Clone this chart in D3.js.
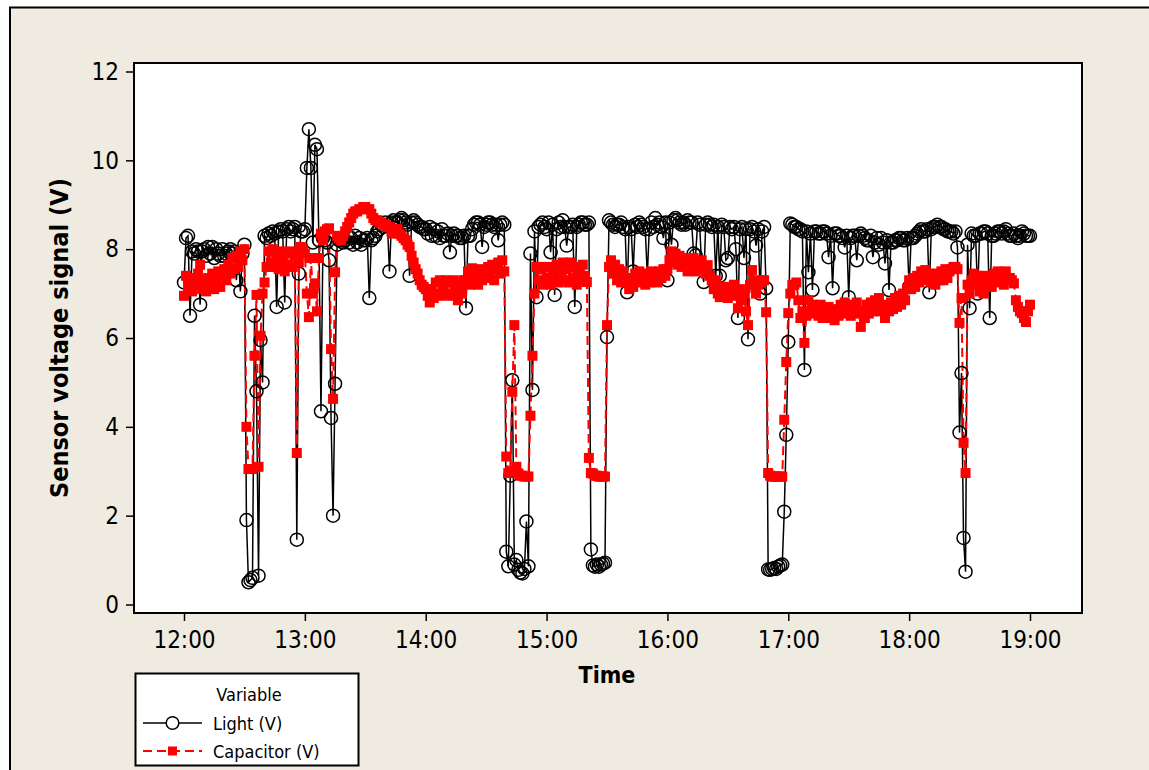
<!DOCTYPE html>
<meta charset="utf-8">
<style>
body { margin: 0; background: #fff; }
</style>
<body>
<script src="https://cdn.jsdelivr.net/npm/d3@7/dist/d3.min.js"></script>
<script>

// one reading per minute, 12:00 .. 19:00 (ten readings per row)
var minutes = d3.range(0, 421);

var light = [
  7.25, 8.25, 8.3, 6.5, 7.95, 7.9, 8.0, 7.95, 6.75, 7.95,
  8.0, 7.85, 8.05, 7.9, 8.05, 7.8, 8.0, 7.9, 7.85, 8.0,
  7.85, 7.9, 7.95, 8.0, 7.9, 7.95, 7.3, 7.85, 7.05, 7.9,
  8.1, 1.9, 0.5, 0.55, 0.6, 6.5, 4.8, 0.65, 5.95, 5.0,
  8.3, 8.25, 8.35, 8.3, 8.4, 8.35, 6.7, 8.4, 8.45, 8.4,
  6.8, 8.45, 8.5, 8.4, 8.45, 8.5, 1.46, 7.45, 8.4, 8.4,
  8.45, 9.83, 10.7, 9.83, 8.15, 10.35, 10.25, 8.2, 4.35, 8.25,
  8.2, 8.15, 7.75, 4.2, 2.0, 4.97, 8.1, 8.2, 8.2, 8.15,
  8.2, 8.3, 8.15, 8.25, 8.1, 8.3, 8.15, 8.25, 8.1, 8.2,
  8.2, 8.25, 6.9, 8.2, 8.25, 8.3, 8.4, 8.45, 8.55, 8.5,
  8.6, 8.55, 7.5, 8.6, 8.65, 8.6, 8.6, 8.65, 8.7, 8.65,
  8.6, 8.55, 7.4, 8.6, 8.65, 8.6, 8.55, 8.5, 8.5, 8.45,
  8.45, 8.35, 8.5, 8.3, 8.45, 8.3, 8.4, 8.25, 8.45, 8.3,
  8.3, 8.35, 7.93, 8.3, 8.35, 8.3, 8.3, 8.25, 8.25, 8.3,
  6.67, 8.3, 8.3, 8.45, 8.55, 8.6, 8.6, 8.55, 8.05, 8.5,
  8.55, 8.6, 8.6, 8.55, 8.5, 8.55, 8.2, 8.55, 8.6, 8.55,
  1.19, 0.86, 2.9, 5.05, 0.9, 1.0, 0.78, 0.72, 0.7, 0.8,
  1.87, 0.86, 7.9, 4.83, 8.4, 6.92, 8.5, 8.55, 8.6, 8.5,
  8.45, 8.6, 7.93, 8.55, 6.97, 8.45, 8.6, 8.5, 8.65, 8.5,
  8.08, 8.5, 8.5, 8.55, 6.7, 8.5, 8.55, 8.6, 8.6, 8.55,
  8.55, 8.6, 1.24, 0.88, 0.85, 0.9, 0.85, 0.9, 0.92, 0.94,
  6.02, 8.65, 8.6, 8.55, 8.5, 8.55, 8.55, 8.6, 8.5, 8.45,
  7.03, 8.5, 8.45, 7.5, 8.55, 8.5, 8.6, 8.55, 8.5, 8.45,
  7.4, 8.45, 8.6, 8.5, 8.7, 8.55, 8.6, 8.5, 8.25, 8.6,
  7.3, 8.6, 8.1, 8.65, 8.7, 8.65, 8.6, 8.55, 8.6, 8.55,
  8.65, 8.6, 8.6, 7.9, 7.86, 8.6, 8.55, 7.6, 7.26, 8.55,
  8.6, 8.55, 8.5, 8.55, 7.4, 8.5, 7.4, 8.55, 8.5, 7.75,
  7.8, 8.5, 8.45, 8.5, 8.0, 6.45, 8.45, 8.5, 7.8, 8.45,
  5.97, 8.45, 8.5, 8.4, 8.08, 8.45, 7.0, 8.4, 8.5, 7.12,
  0.79, 0.78, 0.8, 0.82, 0.8, 0.85, 0.88, 0.9, 2.09, 3.82,
  5.91, 8.58, 8.55, 8.5, 8.5, 8.45, 8.45, 8.4, 5.28, 8.4,
  7.48, 8.35, 7.08, 8.4, 8.4, 8.35, 8.35, 8.4, 8.4, 8.35,
  7.82, 8.3, 7.12, 8.35, 8.35, 8.3, 8.3, 8.25, 8.04, 8.3,
  6.92, 8.25, 8.3, 8.3, 7.75, 8.3, 8.35, 8.3, 8.25, 8.2,
  8.2, 8.3, 7.82, 8.15, 8.25, 8.1, 8.25, 8.15, 7.68, 8.2,
  7.08, 8.15, 8.15, 8.2, 8.2, 8.25, 8.25, 8.2, 8.2, 8.25,
  7.15, 8.25, 8.25, 8.3, 8.35, 8.4, 8.45, 8.4, 8.4, 8.45,
  7.03, 8.45, 8.5, 8.5, 8.55, 8.5, 8.5, 8.45, 8.45, 8.4,
  8.4, 8.4, 8.35, 8.4, 8.04, 3.87, 5.21, 1.5, 0.74, 8.1,
  6.67, 8.35, 8.3, 8.3, 7.0, 8.35, 8.35, 8.4, 8.4, 8.35,
  6.45, 8.3, 8.3, 8.35, 8.4, 8.4, 8.35, 8.4, 8.45, 8.35,
  8.3, 8.3, 8.35, 8.3, 8.25, 8.3, 8.4, 8.35, 8.3, 8.3,
  8.3
];

var capacitor = [
  6.95, 7.4, 7.15, 7.3, 7.05, 7.35, 7.2, 7.45, 7.65, 7.1,
  7.3, 7.05, 7.35, 7.2, 7.45, 7.1, 7.3, 7.5, 7.15, 7.4,
  7.55, 7.3, 7.65, 7.45, 7.8, 7.55, 7.85, 7.6, 7.95, 7.75,
  8.0, 4.0, 3.05, 3.05, 3.05, 5.6, 6.97, 3.1, 6.05, 7.0,
  7.25, 7.6, 7.95, 7.7, 8.0, 7.6, 7.85, 7.55, 7.95, 7.7,
  7.5, 7.9, 7.65, 7.95, 7.6, 7.85, 3.41, 7.7, 8.05, 8.0,
  7.9, 7.0, 6.47, 7.8, 7.0, 7.23, 6.6, 7.8, 8.35, 8.2,
  8.4, 8.45, 8.47, 5.75, 4.63, 7.48, 8.3, 8.25, 8.2, 8.3,
  8.4, 8.5, 8.6, 8.7, 8.8, 8.85, 8.85, 8.9, 8.9, 8.95,
  8.95, 8.9, 8.9, 8.8, 8.7, 8.65, 8.65, 8.6, 8.6, 8.55,
  8.55, 8.5, 8.5, 8.4, 8.35, 8.45, 8.45, 8.35, 8.3, 8.25,
  8.2, 8.1, 8.05, 7.85, 7.7, 7.55, 7.45, 7.3, 7.2, 7.15,
  7.1, 6.95, 6.8, 7.1, 6.9, 7.25, 7.0, 7.3, 6.95, 7.2,
  7.3, 7.0, 7.25, 6.95, 7.3, 7.05, 6.85, 7.2, 7.0, 7.3,
  7.3, 7.5, 7.2, 7.57, 7.25, 7.45, 7.2, 7.55, 7.3, 7.5,
  7.35, 7.6, 7.4, 7.65, 7.3, 7.55, 7.7, 7.45, 7.75, 7.5,
  3.33, 2.96, 3.0, 4.79, 6.29, 3.1, 2.95, 2.9, 2.9, 2.88,
  2.88, 2.88, 4.25, 5.6, 7.0, 7.6, 7.3, 7.55, 7.2, 7.6,
  7.35, 7.6, 7.2, 7.55, 7.3, 7.65, 7.25, 7.5, 7.7, 7.3,
  7.55, 7.25, 7.7, 7.35, 7.6, 7.2, 7.5, 7.3, 7.65, 7.4,
  7.26, 3.3, 2.96, 2.95, 2.9, 2.9, 2.88, 2.88, 2.88, 2.88,
  6.29, 7.6, 7.75, 7.45, 7.65, 7.3, 7.55, 7.25, 7.5, 7.35,
  7.3, 7.1, 7.35, 7.15, 7.45, 7.25, 7.5, 7.3, 7.45, 7.2,
  7.4, 7.25, 7.5, 7.3, 7.45, 7.25, 7.5, 7.35, 7.55, 7.4,
  7.55, 7.75, 7.95, 7.7, 7.9, 7.65, 7.85, 7.6, 7.8, 7.7,
  7.5, 7.75, 7.6, 7.8, 7.5, 7.7, 7.55, 7.75, 7.6, 7.45,
  7.64, 7.4, 7.3, 7.1, 7.3, 7.0, 6.92, 7.15, 6.95, 7.15,
  6.9, 7.15, 7.0, 7.2, 6.95, 6.67, 7.1, 6.85, 7.0, 6.6,
  6.29, 7.2, 7.53, 7.3, 7.0, 7.2, 7.26, 7.3, 7.3, 6.58,
  2.96, 2.9, 2.88, 2.88, 2.88, 2.88, 2.88, 2.88, 4.16, 5.46,
  6.56, 7.0, 7.19, 7.2, 7.25, 6.85, 6.45, 6.6, 5.89, 6.5,
  6.85, 6.6, 6.75, 6.55, 6.7, 6.5, 6.75, 6.45, 6.65, 6.5,
  6.7, 6.45, 6.6, 6.4, 6.65, 6.5, 6.75, 6.55, 6.8, 6.6,
  6.7, 6.5, 6.75, 6.55, 6.8, 6.6, 6.25, 6.6, 6.45, 6.75,
  6.55, 6.8, 6.6, 6.85, 6.65, 6.9, 6.6, 6.75, 6.45, 6.7,
  6.6, 6.8, 6.65, 6.9, 6.7, 6.95, 6.75, 7.0, 6.85, 7.1,
  7.3, 7.1, 7.35, 7.15, 7.4, 7.25, 7.5, 7.3, 7.53, 7.35,
  7.45, 7.25, 7.4, 7.2, 7.45, 7.3, 7.5, 7.3, 7.55, 7.35,
  7.5, 7.55, 7.6, 7.6, 7.55, 6.34, 6.9, 3.64, 2.96, 7.2,
  7.0, 7.3, 7.45, 7.2, 7.4, 7.05, 7.25, 7.0, 7.4, 7.2,
  7.37, 7.15, 7.45, 7.25, 7.5, 7.3, 7.45, 7.2, 7.5, 7.35,
  7.35, 7.3, 7.23, 6.85, 6.7, 6.6, 6.56, 6.45, 6.36, 6.6,
  6.75
];

var xTicks = [0, 60, 120, 180, 240, 300, 360, 420];
var xTickLabels = ["12:00", "13:00", "14:00", "15:00", "16:00", "17:00", "18:00", "19:00"];
var yTicks = [0, 2, 4, 6, 8, 10, 12];
var seriesNames = ["Light (V)", "Capacitor (V)"];

if (minutes.length != light.length || minutes.length != capacitor.length)
  throw new Error("length mismatch " + minutes.length + " " + light.length + " " + capacitor.length);

var FONT = '"DejaVu Sans Condensed", "DejaVu Sans", sans-serif';

var svg = d3.select("body").append("svg")
    .attr("width", 1149)
    .attr("height", 770);

// outer beige panel
svg.append("rect")
    .attr("x", 10).attr("y", 7.5)
    .attr("width", 1160).attr("height", 790)
    .attr("fill", "#efebe1")
    .attr("stroke", "#000")
    .attr("stroke-width", 2);

// data region
svg.append("rect")
    .attr("x", 134).attr("y", 63)
    .attr("width", 948).attr("height", 550)
    .attr("fill", "#fff")
    .attr("stroke", "#000")
    .attr("stroke-width", 2);

var x = d3.scaleLinear().domain([0, 420]).range([184, 1030]);
var y = d3.scaleLinear().domain([0, 12]).range([604.5, 71.5]);

var data = minutes.map(function(m, i) {
  return {m: m, light: light[i], cap: capacitor[i]};
});

// axes
var xAxis = svg.append("g")
    .attr("transform", "translate(0,613)")
    .call(d3.axisBottom(x).tickValues(xTicks)
      .tickFormat(function(d, i) { return xTickLabels[i]; })
      .tickSize(8).tickPadding(10));
xAxis.select(".domain").remove();

var yAxis = svg.append("g")
    .attr("transform", "translate(134,0)")
    .call(d3.axisLeft(y).tickValues(yTicks).tickSize(8).tickPadding(7));
yAxis.select(".domain").remove();

[xAxis, yAxis].forEach(function(g) {
  g.attr("font-family", FONT).attr("font-size", 24);
  g.selectAll("line").attr("stroke", "#000").attr("stroke-width", 1.5);
  g.selectAll("text").attr("fill", "#000");
});

svg.append("text")
    .attr("x", 607).attr("y", 683)
    .attr("text-anchor", "middle")
    .attr("font-family", FONT).attr("font-weight", "bold").attr("font-size", 23)
    .text("Time");

svg.append("text")
    .attr("text-anchor", "middle")
    .attr("transform", "translate(68,338)rotate(-90)")
    .attr("font-family", FONT).attr("font-weight", "bold").attr("font-size", 25)
    .text("Sensor voltage signal (V)");

// lines
var lightLine = d3.line().x(function(d) { return x(d.m); }).y(function(d) { return y(d.light); });
var capLine = d3.line().x(function(d) { return x(d.m); }).y(function(d) { return y(d.cap); });

svg.append("path")
    .datum(data)
    .attr("d", lightLine)
    .attr("fill", "none")
    .attr("stroke", "#000")
    .attr("stroke-width", 1.5);

svg.append("path")
    .datum(data)
    .attr("d", capLine)
    .attr("fill", "none")
    .attr("stroke", "#ff0000")
    .attr("stroke-width", 2)
    .attr("stroke-dasharray", "9,5");

svg.append("g").selectAll("circle")
    .data(data)
  .enter().append("circle")
    .attr("cx", function(d) { return x(d.m); })
    .attr("cy", function(d) { return y(d.light); })
    .attr("r", 6.5)
    .attr("fill", "none")
    .attr("stroke", "#000")
    .attr("stroke-width", 1.5);

svg.append("g").selectAll("rect")
    .data(data)
  .enter().append("rect")
    .attr("x", function(d) { return x(d.m) - 5; })
    .attr("y", function(d) { return y(d.cap) - 5; })
    .attr("width", 10)
    .attr("height", 10)
    .attr("fill", "#ff0000");

// legend
var legend = svg.append("g");
legend.append("rect")
    .attr("x", 135.5).attr("y", 673.5)
    .attr("width", 223).attr("height", 92)
    .attr("fill", "#fff")
    .attr("stroke", "#000")
    .attr("stroke-width", 2);

legend.append("text")
    .attr("x", 249).attr("y", 701)
    .attr("text-anchor", "middle")
    .attr("font-family", FONT).attr("font-size", 18)
    .text("Variable");

legend.append("line")
    .attr("x1", 143).attr("x2", 202).attr("y1", 723).attr("y2", 723)
    .attr("stroke", "#000").attr("stroke-width", 1.5);
legend.append("circle")
    .attr("cx", 172.5).attr("cy", 723).attr("r", 6.3)
    .attr("fill", "#fff").attr("stroke", "#000").attr("stroke-width", 1.5);

legend.append("line")
    .attr("x1", 143).attr("x2", 202).attr("y1", 751).attr("y2", 751)
    .attr("stroke", "#ff0000").attr("stroke-width", 2)
    .attr("stroke-dasharray", "9,5");
legend.append("rect")
    .attr("x", 168).attr("y", 746.5).attr("width", 9).attr("height", 9)
    .attr("fill", "#ff0000");

legend.selectAll("text.entry")
    .data(seriesNames)
  .enter().append("text")
    .attr("class", "entry")
    .attr("x", 213)
    .attr("y", function(d, i) { return 730 + i * 28; })
    .attr("font-family", FONT).attr("font-size", 18)
    .text(function(d) { return d; });

</script>
</body>
